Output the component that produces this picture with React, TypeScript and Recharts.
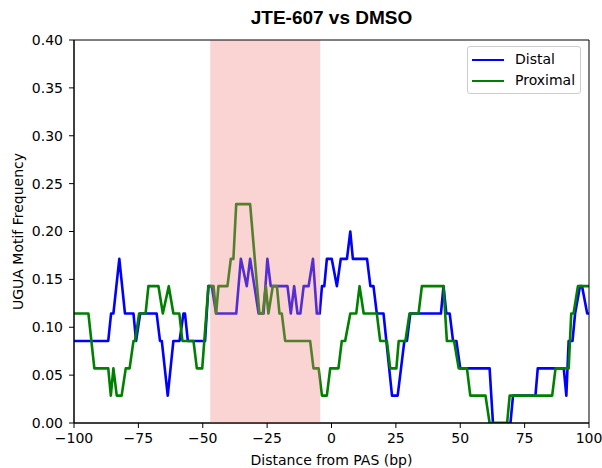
import React from "react";
import { Line, LineChart, ReferenceArea, XAxis, YAxis } from "recharts";

// [distance from PAS (bp), UGUA motif frequency]
const distal: [number, number][] = [
  [-100, 0.0857], [-86.7, 0.0857], [-85.6, 0.1143], [-84.7, 0.1143], [-82.4, 0.1714],
  [-80.2, 0.1143], [-76.9, 0.1143], [-75.9, 0.0857], [-74.3, 0.1143], [-67.9, 0.1143],
  [-66.6, 0.0857], [-65.9, 0.0857], [-63.6, 0.0286], [-61.4, 0.0857], [-59.0, 0.0857],
  [-57.5, 0.1143], [-56.9, 0.1143], [-55.8, 0.0857], [-49.1, 0.0857], [-47.8, 0.1429],
  [-46.5, 0.1429], [-44.8, 0.1143], [-37.0, 0.1143], [-35.2, 0.1714], [-32.9, 0.1429],
  [-31.6, 0.1714], [-28.3, 0.1143], [-26.4, 0.1143], [-24.9, 0.1714], [-23.6, 0.1429],
  [-17.1, 0.1429], [-15.8, 0.1143], [-14.5, 0.1429], [-13.2, 0.1143], [-12.1, 0.1143],
  [-10.8, 0.1429], [-8.9, 0.1429], [-7.2, 0.1714], [-5.7, 0.1143], [-4.6, 0.1143],
  [-3.7, 0.1429], [-2.8, 0.1429], [-1.8, 0.1714], [0.1, 0.1714], [2.1, 0.1429],
  [3.6, 0.1714], [6.0, 0.1714], [7.3, 0.2], [8.3, 0.1714], [13.8, 0.1714],
  [15.1, 0.1429], [16.3, 0.1429], [17.6, 0.1143], [20.2, 0.1143], [23.5, 0.0286],
  [25.7, 0.0286], [27.0, 0.0571], [28.3, 0.0857], [29.3, 0.0857], [30.6, 0.1143],
  [42.5, 0.1143], [43.5, 0.1429], [44.6, 0.1143], [45.9, 0.1143], [47.2, 0.0857],
  [48.5, 0.0857], [50.0, 0.0571], [61.4, 0.0571], [62.7, 0], [69.5, 0],
  [70.5, 0.0286], [79.2, 0.0286], [80.1, 0.0571], [90.2, 0.0571], [91.2, 0.0286],
  [92.1, 0.0857], [93.6, 0.0857], [94.6, 0.1143], [96.5, 0.1429], [97.3, 0.1429],
  [99.3, 0.1143], [100, 0.1143],
];

const proximal: [number, number][] = [
  [-100, 0.1143], [-94.4, 0.1143], [-92.1, 0.0571], [-86.7, 0.0571], [-85.7, 0.0286],
  [-84.7, 0.0571], [-83.4, 0.0286], [-81.5, 0.0286], [-79.9, 0.0571], [-78.4, 0.0571],
  [-76.9, 0.0857], [-76.3, 0.0857], [-74.7, 0.1143], [-72.2, 0.1143], [-71.1, 0.1429],
  [-67.2, 0.1429], [-65.5, 0.1143], [-63.2, 0.1429], [-61.4, 0.1143], [-59.1, 0.1143],
  [-57.9, 0.0857], [-53.6, 0.0857], [-52.3, 0.0571], [-50.2, 0.0571], [-47.8, 0.1429],
  [-45.8, 0.1429], [-44.8, 0.1143], [-43.9, 0.1429], [-40.4, 0.1429], [-39.1, 0.1714],
  [-38.1, 0.1714], [-37.0, 0.2286], [-31.6, 0.2286], [-28.0, 0.1143], [-26.7, 0.1143],
  [-25.5, 0.1429], [-24.5, 0.1143], [-22.8, 0.1429], [-21.2, 0.1429], [-20.2, 0.1143],
  [-19.3, 0.1143], [-18.0, 0.0857], [-8.3, 0.0857], [-7.0, 0.0571], [-5.0, 0.0571],
  [-3.7, 0.0286], [-1.8, 0.0286], [-0.5, 0.0571], [2.7, 0.0571], [4.0, 0.0857],
  [5.3, 0.0857], [7.3, 0.1143], [9.6, 0.1143], [10.9, 0.1429], [12.5, 0.1143],
  [17.6, 0.1143], [18.9, 0.0857], [21.5, 0.0857], [22.8, 0.0571], [25.2, 0.0571],
  [26.1, 0.0857], [28.7, 0.0857], [30.3, 0.1143], [33.8, 0.1143], [35.1, 0.1429],
  [43.5, 0.1429], [44.8, 0.0857], [47.6, 0.0857], [49.4, 0.0571], [52.6, 0.0571],
  [53.9, 0.0286], [59.8, 0.0286], [61.4, 0], [68.2, 0], [69.2, 0.0286],
  [85.7, 0.0286], [87.0, 0.0571], [92.1, 0.0571], [93.1, 0.1143], [94.0, 0.1143],
  [95.7, 0.1429], [100, 0.1429],
];

const xTicks = [-100, -75, -50, -25, 0, 25, 50, 75, 100];
const yTicks = [0, 0.05, 0.1, 0.15, 0.2, 0.25, 0.3, 0.35, 0.4];
const shade = [-47.1, -4.4];

const seriesNames = ["Distal", "Proximal"];
const seriesColors = ["#0000ff", "#008000"];

const font = "'DejaVu Sans', sans-serif";

const toPoints = (d: [number, number][]) => d.map(([x, y]) => ({ x, y }));

const fmtX = (v: number) => (v < 0 ? `\u2212${Math.abs(v)}` : String(v));

function LegendBox() {
  return (
    <div
      style={{
        position: "absolute",
        left: 467,
        top: 46,
        width: 114,
        boxSizing: "border-box",
        border: "1px solid #cccccc",
        borderRadius: 3,
        background: "rgba(255,255,255,0.8)",
        padding: "2px 0 2px 4px",
        fontFamily: font,
        fontSize: 14,
        lineHeight: "21px",
      }}
    >
      {seriesNames.map((n, i) => (
        <div key={n} style={{ display: "flex", alignItems: "center" }}>
          <span
            style={{
              display: "inline-block",
              width: 32,
              height: 0,
              borderTop: `2.6px solid ${seriesColors[i]}`,
              marginRight: 11,
            }}
          />
          <span>{n}</span>
        </div>
      ))}
    </div>
  );
}

export default function App() {
  return (
    <div style={{ width: 602, height: 468, background: "#fff", position: "relative", overflow: "hidden" }}>
      <style>{`body { margin: 0; }`}</style>
      <div
        style={{
          position: "absolute",
          top: 7,
          left: 74,
          width: 515,
          textAlign: "center",
          fontFamily: "'Liberation Sans', Arial, sans-serif",
          fontWeight: "bold",
          fontSize: 19,
        }}
      >
        JTE-607 vs DMSO
      </div>
      <LineChart
        width={602}
        height={468}
        margin={{ top: 40, right: 13, bottom: 15, left: 14 }}
        style={{ fontFamily: font }}
      >
        <XAxis
          dataKey="x"
          type="number"
          domain={[-100, 100]}
          ticks={xTicks}
          tickFormatter={fmtX}
          allowDataOverflow
          height={30}
          tickSize={5}
          tickMargin={5}
          axisLine={{ stroke: "#000" }}
          tickLine={{ stroke: "#000" }}
          tick={{ fill: "#000", fontSize: 14 }}
          label={{ value: "Distance from PAS (bp)", position: "insideBottom", offset: -12, fill: "#000", fontSize: 14 }}
        />
        <YAxis
          dataKey="y"
          type="number"
          domain={[0, 0.4]}
          ticks={yTicks}
          tickFormatter={(v: number) => v.toFixed(2)}
          allowDataOverflow
          width={60}
          tickSize={5}
          tickMargin={6}
          axisLine={{ stroke: "#000" }}
          tickLine={{ stroke: "#000" }}
          tick={{ fill: "#000", fontSize: 14 }}
          label={{ value: "UGUA Motif Frequency", angle: -90, position: "insideLeft", offset: 4, fill: "#000", fontSize: 14, style: { textAnchor: "middle" } }}
        />
        <Line
          data={toPoints(distal)}
          dataKey="y"
          name={seriesNames[0]}
          stroke={seriesColors[0]}
          strokeWidth={2.6}
          strokeLinejoin="round"
          dot={false}
          activeDot={false}
          type="linear"
          isAnimationActive={false}
        />
        <Line
          data={toPoints(proximal)}
          dataKey="y"
          name={seriesNames[1]}
          stroke={seriesColors[1]}
          strokeWidth={2.6}
          strokeLinejoin="round"
          dot={false}
          activeDot={false}
          type="linear"
          isAnimationActive={false}
        />
        <ReferenceArea
          x1={shade[0]}
          x2={shade[1]}
          y1={0}
          y2={0.4}
          fill="#f08080"
          fillOpacity={0.35}
          stroke="none"
          zIndex={500}
        />
        <ReferenceArea
          x1={-100}
          x2={100}
          y1={0}
          y2={0.4}
          fill="none"
          stroke="#000"
          strokeWidth={1}
          zIndex={600}
        />
      </LineChart>
      <LegendBox />
    </div>
  );
}
